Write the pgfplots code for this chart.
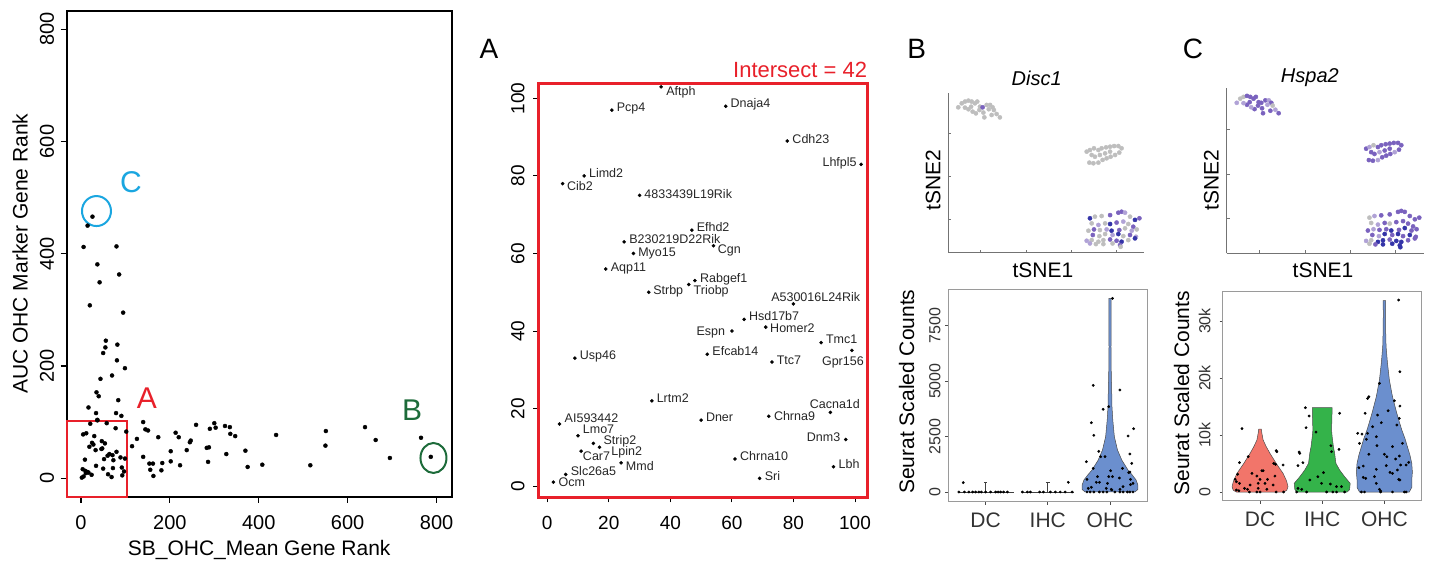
\documentclass[border=0pt]{standalone}
\usepackage{fontspec}
\setmainfont{Liberation Sans}
\usepackage{pgfplots}
\pgfplotsset{compat=1.18}
\usepackage{pgfplotstable}

\definecolor{rred}{HTML}{E8202A}
\definecolor{rgreen}{HTML}{1D6B3A}
\definecolor{rcyan}{HTML}{1AA6E0}
\definecolor{tgrey}{HTML}{BEBEBE}
\definecolor{tlav}{HTML}{B0A2D6}
\definecolor{tpur}{HTML}{7A62BE}
\definecolor{tdark}{HTML}{3434A8}
\definecolor{vred}{HTML}{F2756A}
\definecolor{vgreen}{HTML}{34B34A}
\definecolor{vblue}{HTML}{6B8FCE}
\definecolor{frame}{HTML}{9A9A9A}

\newcommand{\fs}[1]{\fontsize{#1pt}{#1pt}\selectfont}

% genes in the intersect (SB rank, AUC rank); label to the right of the dot
\pgfplotstableread{
x y name dx dy
2 1 Ocm 5 -4
6 3 Slc26a5 5 -1
69 2 Sri 5 -1.7
93 5 Lbh 5 -2
24 6 Mmd 4.7 -8
61 7 Chrna10 5 -2
11 9 Car7 1.7 -9.3
17 10 Lpin2 11.7 -8.3
15 11 Strip2 10 -1.3
10 13 Lmo7 4.7 2
4 16 AI593442 5 1.7
50 17 Dner 4.7 -1.7
72 18 Chrna9 5 -4
34 22 Lrtm2 4.7 -1.7
73 32 Ttc7 4.7 -2
9 33 Usp46 4.7 -1.7
52 34 Efcab14 5 -1.7
89 37 Tmc1 4.7 -1.3
71 41 Homer2 4.3 -5
64 43 Hsd17b7 4.7 -1.3
33 50 Strbp 4.3 -2.3
46 52 Triobp 4.7 -10
48 53 Rabgef1 5 -2
19 56 Aqp11 5 -2.3
28 60 Myo15 4.7 -3
54 62 Cgn 4.3 -7.3
25 63 B230219D22Rik 5 -1.7
47 66 Efhd2 4.7 -1.7
30 75 4833439L19Rik 4.7 -2.7
5 78 Cib2 4.3 -7.3
12 80 Limd2 4.7 -1.3
78 89 Cdh23 5 -2
21 97 Pcp4 4.7 -1.7
58 98 Dnaja4 4.7 -1.7
37 103 Aftph 5 -8.3
}\geneswest

% genes whose label ends at the given offset
\pgfplotstableread{
x y name dx dy
97 12 Dnm3 -5.3 -2.3
92 19 Cacna1d 29.7 3.7
99 35 Gpr156 12 -14.7
60 40 Espn -6.7 -4
80 47 A530016L24Rik 67 2.3
102 83 Lhfpl5 -4.3 -2.3
}\geneseast

% remaining genes of the rank comparison
\pgfplotstableread{
x y
26 466
15 450
6 412
80 413
37 381
42 349
86 363
20 308
95 295
56 245
55 233
50 223
82 238
81 210
99 196
44 177
70 183
35 153
40 146
84 139
17 126
34 116
79 116
91 111
37 104
115 57
126 70
140 100
145 87
151 85
140 38
154 26
162 26
156 15
163 4
174 73
183 27
181 14
202 48
202 30
213 81
220 73
223 23
238 50
245 64
247 67
259 95
283 54
288 55
286 29
290 88
300 98
303 90
324 93
335 91
336 79
347 75
327 43
370 49
375 20
408 24
439 77
516 23
551 84
550 58
639 91
663 68
695 36
765 72
787 38
}\outer

% tSNE embedding, b = Disc1 level, c = Hspa2 level
\pgfplotstableread{
x y b c
5.2 91.2 0 1
7.0 93.7 0 0
8.7 94.8 0 0
10.5 95.4 0 2
12.2 94.8 0 2
13.9 93.7 0 2
15.1 94.8 0 2
16.5 91.6 0 2
20.0 92.7 0 2
21.8 92.7 0 1
23.1 91.2 0 2
23.8 89.5 0 0
25.2 87.0 0 1
26.9 84.9 0 2
18.8 84.9 0 2
14.4 87.4 0 2
12.7 88.5 0 1
10.5 90.0 0 2
8.7 91.0 0 1
11.9 91.6 0 2
16.2 89.5 0 2
21.1 90.0 0 1
22.6 86.4 0 2
18.3 87.9 0 2
17.9 91.2 2 2
72.2 63.4 0 2
73.9 64.4 0 1
76.0 65.5 0 0
78.3 64.4 0 2
80.0 65.5 0 2
82.3 66.1 0 2
84.4 66.5 0 2
86.5 66.9 0 2
88.7 66.9 0 2
90.4 65.5 0 2
89.2 62.8 0 2
87.0 61.3 0 1
84.7 60.2 0 2
82.6 59.2 0 2
80.5 58.2 0 2
78.3 56.5 0 1
75.7 56.1 0 2
73.6 56.5 0 2
76.5 60.2 0 2
79.1 61.3 0 1
81.8 62.3 0 2
84.4 63.4 0 2
74.8 61.3 0 2
73.9 21.6 3 0
76.5 22.6 0 1
80.0 23.0 0 2
84.4 23.6 2 2
88.7 25.1 2 2
90.4 25.7 2 2
92.2 25.1 1 2
94.8 22.6 0 2
97.4 20.6 3 2
99.7 21.6 2 2
74.8 18.4 0 0
78.3 17.4 1 1
81.8 18.4 0 2
84.4 18.0 3 0
87.8 18.9 2 2
91.3 19.5 1 2
93.9 18.0 0 2
96.5 16.3 2 2
73.1 13.8 0 2
76.0 14.6 2 1
79.1 14.2 0 2
82.6 14.6 1 2
85.2 13.8 3 3
89.2 14.2 2 2
92.2 15.3 0 3
95.7 13.8 1 2
98.3 14.6 0 2
75.4 11.1 2 2
78.8 10.4 0 1
81.8 11.7 0 3
85.7 11.1 1 2
88.7 11.7 3 3
91.3 10.4 0 2
94.8 11.1 2 3
97.9 10.0 1 2
72.2 7.5 1 1
74.8 7.9 0 0
78.3 6.9 0 3
80.9 7.9 0 3
84.4 8.3 2 2
87.8 7.5 2 3
90.4 6.9 3 3
93.9 7.9 0 2
97.4 9.0 3 2
73.9 5.8 1 0
77.0 5.4 0 2
80.9 5.4 0 3
85.7 5.8 0 3
89.6 4.8 2 3
89.9 3.7 0 3
}\tsne

% Disc1 scaled counts per cell
\pgfplotstableread{
x y
0.64 421
0.57 0
0.66 0
0.73 0
0.79 0
0.84 0
0.89 0
0.93 0
1.00 0
1.08 0
1.16 0
1.20 0
1.24 0
1.29 0
1.35 0
2.33 436
1.59 0
1.67 0
1.72 0
1.87 0
1.93 0
2.04 0
2.12 0
2.20 0
2.28 0
2.39 0
3.04 8740
2.73 4814
3.16 4603
2.98 3851
2.89 3731
2.70 3128
3.38 2858
2.74 2557
3.29 2527
2.82 1835
2.92 1594
2.85 1594
3.32 1715
2.62 1369
3.35 1294
2.73 1068
3.01 963
3.20 1068
3.30 873
3.32 903
2.63 572
2.80 693
2.98 693
3.04 693
3.15 632
3.33 572
2.78 436
2.83 436
2.96 391
3.33 331
3.37 391
2.65 165
2.70 211
2.94 165
3.03 90
3.16 120
3.21 241
3.02 120
2.63 0
2.68 0
2.74 0
2.83 0
2.89 0
2.95 0
3.08 0
3.16 0
3.21 0
3.28 0
3.32 0
3.37 0
}\discpts

% Hspa2 scaled counts per cell
\pgfplotstableread{
x y
0.71 11110
1.26 7250
1.27 7070
0.81 6195
0.67 5145
1.22 5030
1.25 4850
1.37 4736
0.87 3275
1.03 3740
1.05 3740
0.64 3100
0.95 2800
1.00 2220
1.12 2220
1.24 2800
0.60 2220
0.67 1520
0.62 1810
0.84 1230
1.08 1520
0.97 1520
1.21 1230
0.75 643
0.62 350
0.66 234
0.80 468
0.97 643
1.11 468
0.83 0
0.95 0
1.00 0
1.26 0
1.38 0
1.73 14790
1.79 13330
1.74 11280
1.90 10520
2.28 13800
1.63 7016
1.64 6780
1.61 4620
1.69 5145
2.14 8130
2.15 7070
2.27 7480
2.02 3390
1.80 2105
1.93 2690
1.99 1520
2.13 1400
2.23 935
2.31 935
1.61 643
1.67 468
1.59 0
1.75 0
2.07 0
2.17 0
2.23 0
2.36 0
3.23 33680
3.25 21100
2.92 19060
2.75 16720
2.73 16420
3.16 16010
3.25 15080
3.06 14260
2.69 13800
2.89 13500
3.24 12920
3.20 11750
2.81 11460
2.95 12160
2.57 10290
2.64 10170
2.73 10290
2.71 9240
2.87 9700
2.60 8540
2.88 8130
3.13 7950
3.29 8540
2.75 6610
3.00 6610
3.04 6195
3.18 5790
3.24 6310
3.39 5200
2.59 4270
2.66 4560
3.03 4620
3.26 4740
3.35 4740
3.21 3860
2.87 3980
3.09 3450
3.13 3270
2.66 2570
2.70 2400
2.84 2690
3.23 2220
3.25 2100
2.87 1520
2.92 468
2.94 175
2.63 0
2.68 0
2.94 0
3.13 0
3.32 0
3.35 0
}\hspapts

\pgfplotsset{
  tsneclasses/.style={scatter, only marks, scatter src=explicit symbolic,
    scatter/classes={
      0={mark=*, mark size=2.1pt, draw=tgrey, fill=tgrey},
      1={mark=*, mark size=2.1pt, draw=tlav, fill=tlav},
      2={mark=*, mark size=2.1pt, draw=tpur, fill=tpur},
      3={mark=*, mark size=2.1pt, draw=tdark, fill=tdark}}},
  tsneaxis/.style={anchor=south west, scale only axis,
    xmin=0, xmax=102, ymin=0, ymax=100,
    axis lines=left, axis line style={-, draw=black!55, line width=0.9pt},
    xtick={17,40.5,64,87.5}, ytick={21,48,75}, xticklabels={}, yticklabels={},
    tick align=inside, major tick length=3pt, tick style={black!55, line width=0.8pt},
    xlabel={tSNE1}, ylabel={tSNE2}, clip=false},
  vlnaxis/.style={anchor=south west, scale only axis, width=199pt,
    xmin=0.4, xmax=3.6, xtick={1,2,3}, xticklabels={DC,IHC,OHC},
    axis line style={draw=frame, line width=1pt},
    tick align=outside, xtick pos=bottom, ytick pos=left, major tick length=3pt,
    tick style={black!70, line width=0.8pt},
    xticklabel style={font=\fs{21}, text=black!80},
    yticklabel style={font=\fs{16}, text=black!80, rotate=90, anchor=south},
    xticklabel shift=4.5pt, scaled y ticks=false,
    ylabel={Seurat Scaled Counts}},
  genelabels/.style={only marks, mark=*, mark size=1.6pt, black,
    point meta=explicit symbolic,
    visualization depends on={\thisrow{dx}\as\gdx},
    visualization depends on={\thisrow{dy}\as\gdy},
    nodes near coords,
    every node near coord/.append style={anchor=#1, xshift=\gdx, yshift=\gdy,
      font=\fs{12.5}, inner sep=0pt, text=black!85}},
}

\begin{document}
\begin{tikzpicture}
\path[use as bounding box] (0pt,0pt) rectangle (1432pt,563pt);

% ---------------- rank comparison ----------------
\begin{axis}[at={(66.7pt,66.3pt)}, anchor=south west, scale only axis,
  width=385pt, height=486pt,
  xmin=-32, xmax=834, ymin=-33, ymax=833,
  xtick={0,200,400,600,800}, ytick={0,200,400,600,800},
  xticklabels={0,200,400,600,800}, yticklabels={0,200,400,600,800},
  xtick pos=bottom, ytick pos=left, tick align=outside, major tick length=6pt,
  axis line style={line width=1.7pt},
  tick style={line width=1.3pt, black},
  ticklabel style={font=\fs{20}},
  xticklabel shift=8.8pt,
  yticklabel style={rotate=90, anchor=south},
  yticklabel shift=3.2pt,
  xlabel={SB\_OHC\_Mean Gene Rank}, ylabel={AUC OHC Marker Gene Rank},
  every axis x label/.style={at={(axis description cs:0.5,-0.1097)}, anchor=center, font=\fs{21}},
  every axis y label/.style={at={(axis description cs:-0.1213,0.5)}, rotate=90, anchor=center, font=\fs{21}},
  clip=false]
\addplot[only marks, mark=*, mark size=2pt, black] table[x=x,y=y] {\geneswest};
\addplot[only marks, mark=*, mark size=2pt, black] table[x=x,y=y] {\geneseast};
\addplot[only marks, mark=*, mark size=2pt, black] table[x=x,y=y] {\outer};
\draw[rred, line width=2.2pt] (axis cs:-32,-33) rectangle (axis cs:103,102);
\draw[rcyan, line width=2pt] (axis cs:35,476) ellipse [x radius=14.5pt, y radius=15pt];
\draw[rgreen, line width=2pt] (axis cs:793,36) ellipse [x radius=13pt, y radius=15pt];
\node[rred, font=\fs{30}] at (axis cs:148.5,142.6) {A};
\node[rgreen, font=\fs{30}] at (axis cs:745,121) {B};
\node[rcyan, font=\fs{30}] at (axis cs:112.5,527.7) {C};
\end{axis}

% ---------------- A: intersect ----------------
\begin{axis}[at={(538.3pt,65.7pt)}, anchor=south west, scale only axis,
  width=329pt, height=414pt,
  xmin=-2.9, xmax=104, ymin=-2.9, ymax=103.9,
  xtick={0,20,40,60,80,100}, ytick={0,20,40,60,80,100},
  xticklabels={0,20,40,60,80,100}, yticklabels={0,20,40,60,80,100},
  xtick pos=bottom, ytick pos=left, tick align=outside, major tick length=5pt,
  axis line style={draw=none}, tick style={line width=1pt, black},
  ticklabel style={font=\fs{19}},
  xticklabel shift=10.6pt,
  yticklabel style={rotate=90, anchor=south},
  yticklabel shift=5.2pt,
  clip=false]
\draw[rred, line width=2.7pt] (rel axis cs:0,0) rectangle (rel axis cs:1,1);
\addplot[genelabels=base west] table[x=x,y=y,meta=name] {\geneswest};
\addplot[genelabels=base east] table[x=x,y=y,meta=name] {\geneseast};
\end{axis}
\node[rred, anchor=base east, font=\fs{22}, inner sep=0pt] at (867.3pt,485.7pt) {Intersect = 42};

% ---------------- B: Disc1 ----------------
\begin{axis}[tsneaxis, at={(948.3pt,310.3pt)}, width=195.5pt, height=159.4pt,
  title={\itshape Disc1},
  every axis x label/.style={at={(axis description cs:0.484,-0.109)}, anchor=center, font=\fs{21}},
  every axis y label/.style={at={(axis description cs:-0.078,0.456)}, rotate=90, anchor=center, font=\fs{21}},
  every axis title/.style={at={(axis description cs:0.452,1.094)}, anchor=center, font=\fs{20}}]
\addplot[tsneclasses] table[x=x,y=y,meta=b] {\tsne};
\end{axis}

\begin{axis}[vlnaxis, at={(948.3pt,61.3pt)}, height=212.4pt,
  ymin=-438, ymax=9147,
  ytick={0,2500,5000,7500}, yticklabels={0,2500,5000,7500},
  yticklabel shift=1.3pt,
  every axis y label/.style={at={(axis description cs:-0.209,0.518)}, rotate=90, anchor=center, font=\fs{21}}]
\addplot[black!75, line width=0.7pt] coordinates {(0.57,0) (1.45,0)};
\addplot[black!75, line width=0.7pt] coordinates {(1,0) (1,420)};
\addplot[black!75, line width=0.7pt] coordinates {(0.97,420) (1.03,420)};
\addplot[black!75, line width=0.7pt] coordinates {(1.58,0) (2.42,0)};
\addplot[black!75, line width=0.7pt] coordinates {(2,0) (2,436)};
\addplot[black!75, line width=0.7pt] coordinates {(1.97,436) (2.03,436)};
\addplot[fill=vblue, draw=black!70, line width=0.5pt] coordinates {
  (3.40,0) (3.45,120) (3.45,300) (3.42,540) (3.36,760) (3.29,990) (3.19,1440)
  (3.12,1900) (3.07,2500) (3.045,3250) (3.032,3850) (3.027,4600) (3.022,5200)
  (3.018,5700) (3.016,6550) (3.018,7500) (3.02,8740)
  (2.98,8740) (2.982,7500) (2.984,6550) (2.982,5700) (2.978,5200) (2.973,4600)
  (2.968,3850) (2.955,3250) (2.93,2500) (2.88,1900) (2.81,1440) (2.71,990)
  (2.64,760) (2.58,540) (2.55,300) (2.55,120) (2.60,0)} -- cycle;
\addplot[only marks, mark=*, mark size=1.2pt, black] table[x=x,y=y] {\discpts};
\end{axis}

% ---------------- C: Hspa2 ----------------
\begin{axis}[tsneaxis, at={(1226.7pt,309.7pt)}, width=197pt, height=165pt,
  title={\itshape Hspa2},
  every axis x label/.style={at={(axis description cs:0.489,-0.101)}, anchor=center, font=\fs{21}},
  every axis y label/.style={at={(axis description cs:-0.078,0.444)}, rotate=90, anchor=center, font=\fs{21}},
  every axis title/.style={at={(axis description cs:0.422,1.062)}, anchor=center, font=\fs{20}}]
\addplot[tsneclasses] table[x=x,y=y,meta=c] {\tsne};
\end{axis}

\begin{axis}[vlnaxis, at={(1222.7pt,62.3pt)}, height=209pt,
  ymin=-1526, ymax=35140,
  ytick={0,10000,20000,30000}, yticklabels={0,10k,20k,30k},
  yticklabel shift=5.7pt,
  every axis y label/.style={at={(axis description cs:-0.206,0.514)}, rotate=90, anchor=center, font=\fs{21}}]
\addplot[fill=vred, draw=black!70, line width=0.5pt] coordinates {
  (1.38,0) (1.43,300) (1.45,935) (1.43,1800) (1.42,2105) (1.37,3275) (1.26,5030)
  (1.16,6780) (1.10,7950) (1.05,9120) (1.03,10290) (1.02,11050)
  (0.98,11050) (0.97,10290) (0.95,9120) (0.90,7950) (0.84,6780) (0.74,5030)
  (0.63,3275) (0.58,2105) (0.57,1800) (0.55,935) (0.57,300) (0.62,0)} -- cycle;
\addplot[fill=vgreen, draw=black!70, line width=0.5pt] coordinates {
  (2.40,0) (2.44,400) (2.45,1520) (2.36,2690) (2.28,3860) (2.22,5030) (2.20,6780)
  (2.18,7950) (2.16,9700) (2.15,10875) (2.155,12600) (2.16,14790)
  (1.84,14790) (1.845,12600) (1.85,10875) (1.84,9700) (1.82,7950) (1.80,6780)
  (1.78,5030) (1.72,3860) (1.64,2690) (1.55,1520) (1.56,400) (1.60,0)} -- cycle;
\addplot[fill=vblue, draw=black!70, line width=0.5pt] coordinates {
  (3.40,0) (3.44,800) (3.44,2105) (3.45,3500) (3.44,5030) (3.41,6500) (3.37,7950)
  (3.33,9400) (3.28,10875) (3.24,12300) (3.20,13800) (3.13,16720) (3.08,19650)
  (3.05,22570) (3.027,25490) (3.02,28420) (3.018,31340) (3.02,33560)
  (2.98,33560) (2.982,31340) (2.98,28420) (2.973,25490) (2.95,22570) (2.92,19650)
  (2.87,16720) (2.80,13800) (2.76,12300) (2.72,10875) (2.67,9400) (2.63,7950)
  (2.59,6500) (2.56,5030) (2.55,3500) (2.56,2105) (2.56,800) (2.60,0)} -- cycle;
\addplot[only marks, mark=*, mark size=1.2pt, black] table[x=x,y=y] {\hspapts};
\end{axis}

% panel letters
\node[font=\fs{28}] at (489pt,514.5pt) {A};
\node[font=\fs{28}] at (916.7pt,514.5pt) {B};
\node[font=\fs{28}] at (1193pt,514.5pt) {C};
\end{tikzpicture}
\end{document}
